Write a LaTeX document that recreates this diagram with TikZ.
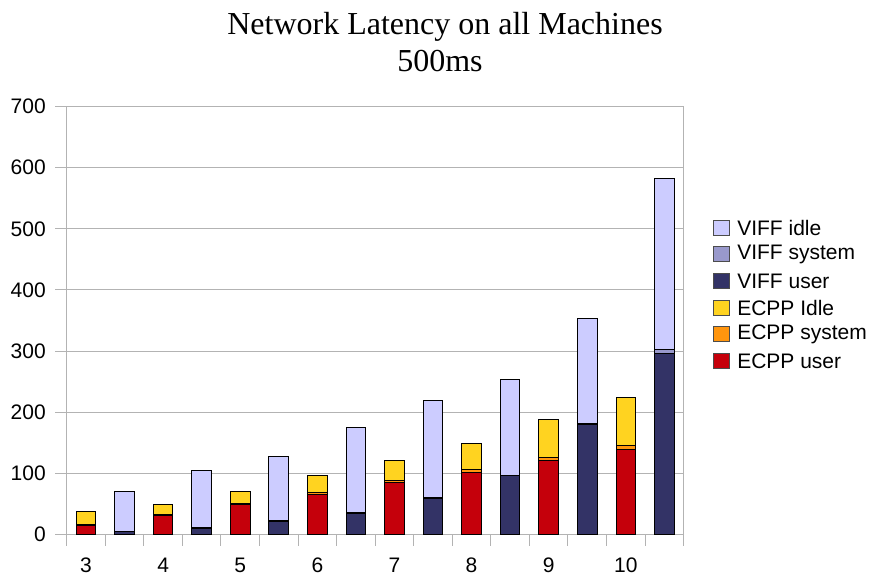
\documentclass[tikz,border=0pt]{standalone}
\usepackage{fontspec}
\setmainfont{Liberation Serif}
\setsansfont{Liberation Sans}
\definecolor{vidle}{HTML}{CCCCFF}
\definecolor{vsys}{HTML}{9999CC}
\definecolor{vuser}{HTML}{333366}
\definecolor{eidle}{HTML}{FFD320}
\definecolor{esys}{HTML}{FF950E}
\definecolor{euser}{HTML}{C5000B}
\definecolor{gridc}{HTML}{B3B3B3}
\tikzset{
  gridline/.style={draw=gridc, line width=0.75pt},
  ylab/.style={anchor=east, font=\sffamily\fontsize{15.75}{18}\selectfont, inner sep=0pt},
  xlab/.style={anchor=center, font=\sffamily\fontsize{15.75}{18}\selectfont, inner sep=0pt},
  seg/.style={draw=black, line width=0.75pt},
  legbox/.style={draw=black!70, line width=0.75pt},
  legtext/.style={anchor=west, font=\sffamily\fontsize{15.75}{18}\selectfont, inner sep=0pt},
}
\begin{document}
\begin{tikzpicture}[x=0.75pt,y=-0.75pt]
\useasboundingbox (0,0) rectangle (872,579);
\fill[white] (0,0) rectangle (872,579);
% title
\node[anchor=base, font=\fontsize{24}{28}\selectfont, inner sep=0pt] (title) at (445,34) {Network Latency on all Machines};
\node[anchor=base, font=\fontsize{24}{28}\selectfont, inner sep=0pt] (sub) at (440,71) {500ms};
% grid
\foreach \v in {0,100,...,700} {
  \pgfmathsetmacro{\yy}{534.3-\v*0.611}
  \draw[gridline] (55,\yy) -- (683.7,\yy);
  \node[ylab] (yl\v) at (46,\yy) {\v};
}
\draw[gridline] (66.7,106.6) -- (66.7,545.7);
\draw[gridline] (683.7,106.6) -- (683.7,545.7);
\foreach \k in {1,...,15} {
  \pgfmathsetmacro{\xx}{66.7+\k*38.56}
  \draw[gridline] (\xx,534.3) -- (\xx,545.7);
}
% x labels
\foreach \k/\lab in {1/3,3/4,5/5,7/6,9/7,11/8,13/9,15/10} {
  \pgfmathsetmacro{\xx}{66.7+(\k-0.5)*38.56}
  \node[xlab] (xl\lab) at (\xx,565) {\lab};
}
% bars
\foreach \k/\u/\s/\d/\ca/\cb/\cc in {
  1/15/1/21/euser/esys/eidle,
  3/31/1/17/euser/esys/eidle,
  5/48/2/20/euser/esys/eidle,
  7/65/4/27/euser/esys/eidle,
  9/84/4/32/euser/esys/eidle,
  11/101/5/43/euser/esys/eidle,
  13/121/5/62/euser/esys/eidle,
  15/139/6/79/euser/esys/eidle,
  2/4/1/65/vuser/vsys/vidle,
  4/10/1/93/vuser/vsys/vidle,
  6/21/1/106/vuser/vsys/vidle,
  8/34/1/140/vuser/vsys/vidle,
  10/59/1/159/vuser/vsys/vidle,
  12/96/1/157/vuser/vsys/vidle,
  14/179/3/171/vuser/vsys/vidle,
  16/296/7/280/vuser/vsys/vidle} {
  \pgfmathsetmacro{\xl}{66.7+(\k-0.5)*38.56-9.8}
  \pgfmathsetmacro{\xr}{66.7+(\k-0.5)*38.56+9.8}
  \pgfmathsetmacro{\ya}{534.3}
  \pgfmathsetmacro{\yb}{534.3-\u*0.611}
  \pgfmathsetmacro{\yc}{534.3-(\u+\s)*0.611}
  \pgfmathsetmacro{\yd}{534.3-(\u+\s+\d)*0.611}
  \filldraw[seg, fill=\ca] (\xl,\ya) rectangle (\xr,\yb);
  \filldraw[seg, fill=\cb] (\xl,\yb) rectangle (\xr,\yc);
  \filldraw[seg, fill=\cc] (\xl,\yc) rectangle (\xr,\yd);
}
% legend
\foreach \r/\c/\t in {0/vidle/VIFF idle,1/vsys/VIFF system,2/vuser/VIFF user,3/eidle/ECPP Idle,4/esys/ECPP system,5/euser/ECPP user} {
  \pgfmathsetmacro{\yt}{220+\r*26.7}
  \filldraw[legbox, fill=\c] (713.3,\yt) rectangle (729.3,\yt+15);
  \node[legtext] (lg\r) at (737,\yt+7.5) {\t};
}
\end{tikzpicture}
\end{document}
